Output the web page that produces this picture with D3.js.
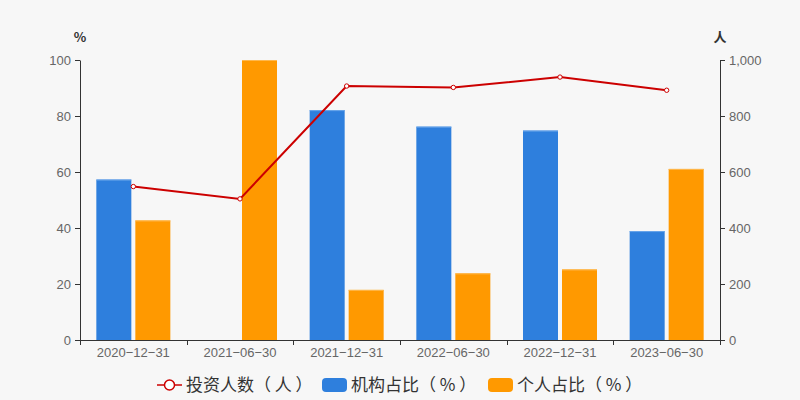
<!DOCTYPE html>
<html><head><meta charset="utf-8">
<script src="https://cdn.jsdelivr.net/npm/d3@7/dist/d3.min.js"></script>
<style>html,body{margin:0;padding:0;background:#f7f7f7;}svg{display:block;font-family:"Noto Sans CJK SC","Noto Sans",sans-serif;}</style>
</head><body><svg id="c" width="800" height="400"></svg>
<script>
const categories = ["2020-12-31","2021-06-30","2021-12-31","2022-06-30","2022-12-31","2023-06-30"];
const investors = [548, 504, 907, 902, 939, 892];
const institutional = [57.3, 0, 82.1, 76.2, 74.8, 38.9];
const individual = [42.7, 100, 17.9, 23.8, 25.2, 61.1];
const leftTicks = [0,20,40,60,80,100];
const rightTicks = [0,200,400,600,800,1000];
const seriesNames = ["投资人数（ 人 ）","机构占比（ % ）","个人占比（ % ）"];
const colors = {line:"#cc0000", inst:"#2e7fdd", indiv:"#ff9900"};

const svg = d3.select("#c");
const L=80, R=720, T=60, B=340;
const x = d3.scaleBand().domain(categories).range([L,R]);
const yL = d3.scaleLinear().domain([0,100]).range([B,T]);
const yR = d3.scaleLinear().domain([0,1000]).range([B,T]);
const bw = 35, gap = 4;

// bars
const g = svg.append("g");
categories.forEach((c,i)=>{
  const cx = x(c)+x.bandwidth()/2;
  if (institutional[i]>0) {
    g.append("rect").attr("x",cx-gap/2-bw).attr("width",bw)
      .attr("y",yL(institutional[i])).attr("height",B-yL(institutional[i])).attr("fill",colors.inst);
    g.append("rect").attr("x",cx-gap/2-bw).attr("width",bw)
      .attr("y",yL(institutional[i])).attr("height",1).attr("fill","#6aa6ea");
  }
  if (individual[i]>0) {
    g.append("rect").attr("x",cx+gap/2).attr("width",bw)
      .attr("y",yL(individual[i])).attr("height",B-yL(individual[i])).attr("fill",colors.indiv);
    g.append("rect").attr("x",cx+gap/2).attr("width",bw)
      .attr("y",yL(individual[i])).attr("height",1).attr("fill","#ffb84d");
  }
});

// axes
const axStyle = sel => {
  sel.selectAll("path,line").attr("stroke","#333");
  sel.selectAll("text").attr("fill","#666").style("font-size","13px").style("font-family","Arial, 'Liberation Sans', sans-serif");
};
svg.append("g").attr("transform",`translate(${L},0)`)
  .call(d3.axisLeft(yL).tickValues(leftTicks).tickSize(5).tickSizeOuter(0).tickPadding(4)).call(axStyle);
svg.append("g").attr("transform",`translate(${R},0)`)
  .call(d3.axisRight(yR).tickValues(rightTicks).tickSize(5).tickSizeOuter(0).tickPadding(4).tickFormat(d3.format(","))).call(axStyle);
const xa = svg.append("g").attr("transform",`translate(0,${B})`)
  .call(d3.axisBottom(x).tickSize(0).tickPadding(8).tickFormat(d=>d.replace(/-/g,"\u2212"))).call(axStyle);
xa.select(".domain").attr("d",`M${L},0.5H${R}`);
// boundary ticks
const bounds = categories.map(c=>x(c)).concat([R]);
xa.selectAll(".bt").data(bounds).enter().append("line").attr("class","bt")
  .attr("x1",d=>Math.round(d)+0.5).attr("x2",d=>Math.round(d)+0.5).attr("y1",0).attr("y2",5).attr("stroke","#333");

// axis titles
svg.append("text").attr("x",L).attr("y",T-18).attr("text-anchor","middle").attr("fill","#333")
  .style("font-size","13px").style("font-weight","bold").text("%");
svg.append("text").attr("x",R).attr("y",T-18).attr("text-anchor","middle").attr("fill","#333")
  .style("font-size","13px").style("font-weight","bold").text("人");

// line
const pts = categories.map((c,i)=>[x(c)+x.bandwidth()/2, yR(investors[i])]);
svg.append("path").attr("d",d3.line()(pts)).attr("fill","none").attr("stroke",colors.line).attr("stroke-width",2);
svg.selectAll(".pt").data(pts).enter().append("circle").attr("cx",d=>d[0]).attr("cy",d=>d[1]).attr("r",2.2)
  .attr("fill","#fff").attr("stroke",colors.line).attr("stroke-width",1);

// legend
const lg = svg.append("g").attr("transform","translate(0,385)");
const fs = "17px";
let lx = 157;
lg.append("line").attr("x1",lx).attr("x2",lx+25).attr("y1",0).attr("y2",0).attr("stroke",colors.line).attr("stroke-width",1.5);
lg.append("circle").attr("cx",lx+12.5).attr("cy",0).attr("r",5).attr("fill","#fff").attr("stroke",colors.line).attr("stroke-width",1.5);
lg.append("text").attr("x",lx+29).attr("y",6).attr("fill","#333").style("font-size",fs).text(seriesNames[0]);
lx = 322;
lg.append("rect").attr("x",lx).attr("y",-7).attr("width",25).attr("height",14).attr("rx",4).attr("fill",colors.inst);
lg.append("text").attr("x",lx+29).attr("y",6).attr("fill","#333").style("font-size",fs).text(seriesNames[1]);
lx = 488;
lg.append("rect").attr("x",lx).attr("y",-7).attr("width",25).attr("height",14).attr("rx",4).attr("fill",colors.indiv);
lg.append("text").attr("x",lx+29).attr("y",6).attr("fill","#333").style("font-size",fs).text(seriesNames[2]);
</script></body></html>
